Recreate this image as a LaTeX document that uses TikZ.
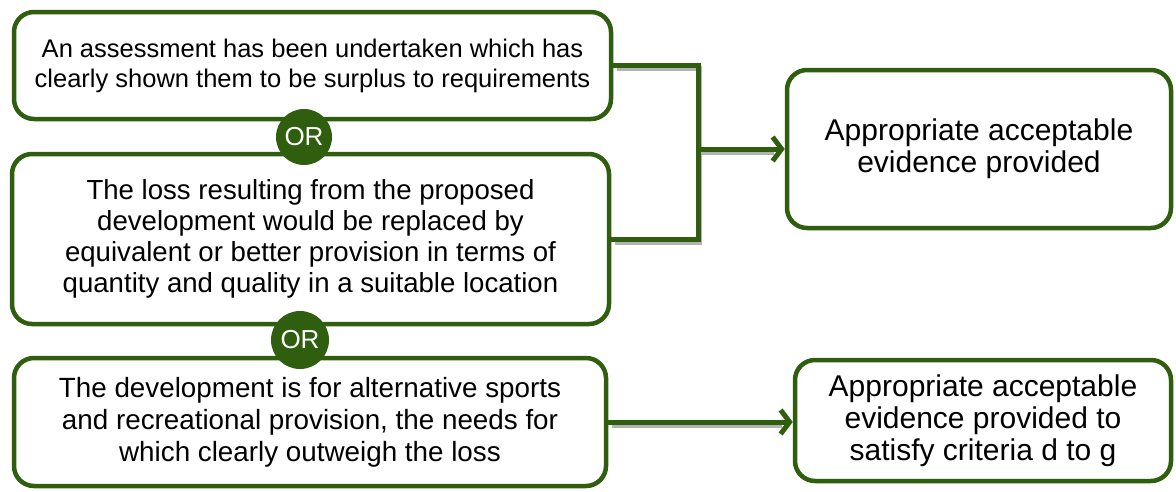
\documentclass[tikz,border=0pt]{standalone}
\usepackage{fontspec}
\setmainfont{Liberation Sans}
\usetikzlibrary{arrows.meta}
\definecolor{ordgreen}{RGB}{46,94,14}
\begin{document}
\begin{tikzpicture}[x=1pt,y=-1pt,
        box/.style={draw=ordgreen,line width=4.5pt,rounded corners=20pt,fill=white,align=center,inner sep=0pt},
        orcirc/.style={circle,fill=ordgreen,text=white,minimum size=56pt,inner sep=0pt,font=\fontsize{26}{30}\selectfont},
        link/.style={draw=ordgreen,line width=5pt},
        linkshade/.style={draw=black!30,line width=5pt}]
        \useasboundingbox (0,0) rectangle (1176,491);
        
        \node[box,minimum width=597pt,minimum height=107pt,font=\fontsize{25.5}{30}\selectfont] (assess) at (312.5,65.5)
            {An assessment has been undertaken which has\\clearly shown them to be surplus to requirements};
        \node[box,minimum width=597pt,minimum height=170pt,font=\fontsize{27.6}{31}\selectfont] (loss) at (310.5,239)
            {The loss resulting from the proposed\\development would be replaced by\\equivalent or better provision in terms of\\quantity and quality in a suitable location};
        \node[box,minimum width=592pt,minimum height=128pt,font=\fontsize{27.8}{32}\selectfont] (sports) at (310,422)
            {The development is for alternative sports\\and recreational provision, the needs for\\which clearly outweigh the loss};
        \node[box,minimum width=384pt,minimum height=158pt,font=\fontsize{30}{32}\selectfont] (accept) at (979,149)
            {Appropriate acceptable\\evidence provided};
        \node[box,minimum width=376pt,minimum height=121pt,font=\fontsize{30}{32}\selectfont] (criteria) at (983,420.5)
            {Appropriate acceptable\\evidence provided to\\satisfy criteria d to g};
        
        \node[orcirc] (or1) at (304,137) {OR};
        \node[orcirc,minimum size=58pt] (or2) at (300,340) {OR};
        
        \coordinate (merge) at (698,149);
        % grey shade under the links
        \begin{scope}[transform canvas={shift={(1.5pt,-3pt)}}]
            \draw[linkshade] ([xshift=2pt]assess.east) -| (merge) |- ([xshift=2pt]loss.east);
            \draw[linkshade] (merge) -- ([xshift=-12pt]accept.west);
            \draw[linkshade] ([xshift=2pt]sports.east) -- ([xshift=-12pt]sports.east -| criteria.west);
        \end{scope}
        \draw[link] (assess.east) -| (merge) |- (loss.east);
        \draw[link,-{Straight Barb[length=9pt,width=24pt]}] (merge) -- (accept.west);
        \draw[link,-{Straight Barb[length=9pt,width=24pt]}] (sports.east) -- (sports.east -| criteria.west);
        
\end{tikzpicture}
\end{document}
